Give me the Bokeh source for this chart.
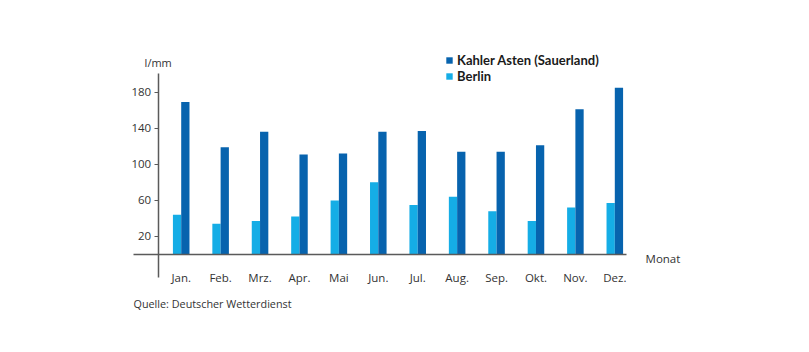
import numpy as np
from bokeh.plotting import figure
from bokeh.models import (Range1d, FixedTicker, ColumnDataSource, Legend, LegendItem, Label)
from bokeh.embed import file_html
from bokeh.resources import INLINE

months = ["Jan.", "Feb.", "Mrz.", "Apr.", "Mai", "Jun.", "Jul.", "Aug.", "Sep.", "Okt.", "Nov.", "Dez."]
kahler = [169, 119, 136, 111, 112, 136, 137, 114, 114, 121, 161, 185]
berlin = [44, 34, 37, 42, 60, 80, 55, 64, 48, 37, 52, 57]
y_ticks = [20, 60, 100, 140, 180]

DARK = "#0763ae"
LIGHT = "#15ade6"
AXIS = "#5a5a5a"
FONT = "Open Sans"

pos = np.arange(1, len(months) + 1)
bw = 0.21

p = figure(width=809, height=352, output_backend="svg", toolbar_location=None,
           x_range=Range1d(-0.54, 14.174), y_range=Range1d(-84.3, 237.3),
           min_border_left=120, min_border_right=109, min_border_top=40, min_border_bottom=22)
p.outline_line_color = None
p.grid.visible = False
p.background_fill_color = "white"
p.border_fill_color = "white"

src = ColumnDataSource(dict(xb=pos - bw / 2, xk=pos + bw / 2, berlin=berlin, kahler=kahler))
rb = p.vbar(x="xb", top="berlin", width=bw, source=src, fill_color=LIGHT, line_color=None)
rk = p.vbar(x="xk", top="kahler", width=bw, source=src, fill_color=DARK, line_color=None)

# x axis
xa = p.xaxis[0]
xa.fixed_location = 0
xa.bounds = (-0.21, 12.3)
xa.ticker = FixedTicker(ticks=list(pos))
xa.major_label_overrides = {int(i): m for i, m in zip(pos, months)}
xa.major_tick_line_color = None
xa.minor_tick_line_color = None
xa.axis_line_color = AXIS
xa.axis_line_width = 1.5
xa.major_label_standoff = 10
xa.major_label_text_font = FONT
xa.major_label_text_font_size = "11.5px"
xa.major_label_text_color = "#333333"

# y axis
ya = p.yaxis[0]
ya.fixed_location = 0.4165
ya.bounds = (-25.5, 201)
ya.ticker = FixedTicker(ticks=y_ticks)
ya.major_tick_out = 4
ya.major_tick_in = 0
ya.major_tick_line_color = AXIS
ya.minor_tick_line_color = None
ya.axis_line_color = AXIS
ya.axis_line_width = 1.5
ya.major_label_standoff = 3
ya.major_label_text_font = FONT
ya.major_label_text_font_size = "11.5px"
ya.major_label_text_color = "#333333"

p.add_layout(Label(x=0.4165, y=213, text="l/mm", text_align="center", text_baseline="middle",
                   text_font=FONT, text_font_size="11px", text_color="#333333"))
p.add_layout(Label(x=12.78, y=-4.5, text="Monat", text_align="left", text_baseline="middle",
                   text_font=FONT, text_font_size="11.5px", text_color="#333333"))
p.add_layout(Label(x=-0.21, y=-54.5, text="Quelle: Deutscher Wetterdienst", text_align="left",
                   text_baseline="middle", text_font=FONT, text_font_size="10.8px", text_color="#333333"))

legend = Legend(items=[LegendItem(label="Kahler Asten (Sauerland)", renderers=[rk]),
                       LegendItem(label="Berlin", renderers=[rb])],
                location=(325, 246), orientation="vertical",
                glyph_width=8, glyph_height=8, label_standoff=4, spacing=0,
                label_height=15, padding=0, margin=0,
                border_line_color=None, background_fill_alpha=0,
                label_text_font="Lato", label_text_font_style="bold",
                label_text_font_size="13px", label_text_color="#1a1a1a")
p.add_layout(legend, "center")

open("out.html", "w").write(file_html(p, INLINE))
